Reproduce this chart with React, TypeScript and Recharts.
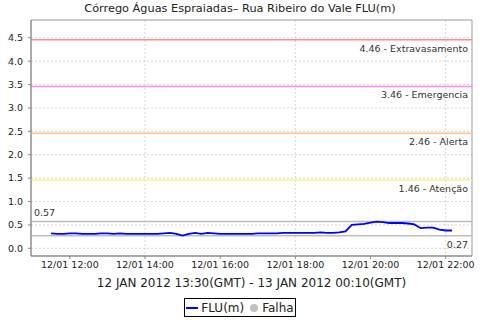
import {
  CartesianGrid,
  Line,
  LineChart,
  ReferenceArea,
  ReferenceLine,
  XAxis,
  YAxis,
} from "recharts";

// 10-minute readings, 12/01 11:30 -> 22:10 (local), minutes since midnight
const startMinute = 690;
const stepMinutes = 10;

const fluValues = [
  0.32, 0.31, 0.31, 0.32, 0.32, 0.31, 0.31, 0.31, 0.32, 0.32,
  0.31, 0.32, 0.31, 0.31, 0.31, 0.31, 0.31, 0.31, 0.32, 0.33,
  0.31, 0.27, 0.31, 0.33, 0.31, 0.33, 0.32, 0.31, 0.31, 0.31,
  0.31, 0.31, 0.31, 0.32, 0.32, 0.32, 0.32, 0.33, 0.33, 0.33,
  0.33, 0.33, 0.33, 0.34, 0.33, 0.33, 0.34, 0.36, 0.5, 0.51,
  0.52, 0.55, 0.57, 0.56, 0.54, 0.54, 0.54, 0.53, 0.51, 0.43,
  0.44, 0.44, 0.4, 0.38, 0.38,
];

const xTicks = [720, 840, 960, 1080, 1200, 1320];
const yTicks = [0, 0.5, 1, 1.5, 2, 2.5, 3, 3.5, 4, 4.5];

const thresholds = [
  { value: 4.46, name: "Extravasamento", color: "#ff8c8c" },
  { value: 3.46, name: "Emergencia", color: "#ff88ff" },
  { value: 2.46, name: "Alerta", color: "#ffc488" },
  { value: 1.46, name: "Atenção", color: "#fff080" },
];

const maxValue = 0.57;
const minValue = 0.27;

const xDomain = [658, 1362];
const yDomain = [-0.165, 4.88];

const font = "'DejaVu Sans', sans-serif";

const chartData = fluValues.map((v, i) => ({
  t: startMinute + i * stepMinutes,
  flu: v,
}));

const pad = (n: number) => String(n).padStart(2, "0");
const formatTime = (m: number) =>
  `12/01 ${pad(Math.floor(m / 60))}:${pad(m % 60)}`;

function RefLabel(props: any) {
  const { viewBox, text, below, left } = props;
  if (!viewBox) return null;
  const { x, y, width } = viewBox;
  return (
    <text
      x={left ? x + 3 : x + width - 4}
      y={below ? y + 8.5 : y - 9}
      textAnchor={left ? "start" : "end"}
      dominantBaseline="central"
      fontSize={9.5}
      fontFamily={font}
      fill="#333"
    >
      {text}
    </text>
  );
}

export default function App() {
  return (
    <div
      style={{
        position: "absolute",
        left: 0,
        top: 0,
        width: 480,
        height: 320,
        background: "#fff",
        fontFamily: font,
      }}
    >
      <div
        style={{
          position: "absolute",
          top: 2,
          left: 0,
          width: 480,
          textAlign: "center",
          fontSize: 11.3,
          color: "#222",
        }}
      >
        Córrego Águas Espraiadas– Rua Ribeiro do Vale FLU(m)
      </div>
      <div style={{ position: "absolute", left: 0, top: 0 }}>
        <LineChart
          width={480}
          height={320}
          data={chartData}
          margin={{ top: 20, right: 8, left: 0, bottom: 33 }}
        >
          <CartesianGrid
            stroke="#d4d4d4"
            strokeDasharray="2 2"
            horizontalValues={yTicks}
            verticalValues={xTicks}
          />
          <XAxis
            type="number"
            dataKey="t"
            domain={xDomain}
            ticks={xTicks}
            tickFormatter={formatTime}
            allowDataOverflow
            height={31}
            stroke="#888"
            tickSize={3}
            tickMargin={2}
            tick={{ fontSize: 9.5, fill: "#222", fontFamily: font }}
            label={{
              value: "12 JAN 2012 13:30(GMT) - 13 JAN 2012 00:10(GMT)",
              position: "insideBottom",
              offset: 0,
              fontSize: 12,
              fill: "#222",
              fontFamily: font,
            }}
          />
          <YAxis
            type="number"
            domain={yDomain}
            ticks={yTicks}
            allowDataOverflow
            width={31}
            stroke="#888"
            tickSize={3}
            tickMargin={5}
            tickFormatter={(v: number) => v.toFixed(1)}
            tick={{ fontSize: 9.5, fill: "#222", fontFamily: font }}
          />
          <ReferenceArea
            x1={xDomain[0]}
            x2={xDomain[1]}
            y1={yDomain[0]}
            y2={yDomain[1]}
            fill="none"
            stroke="#999"
            ifOverflow="visible"
          />
          {thresholds.map((th) => (
            <ReferenceLine
              key={th.name}
              y={th.value}
              stroke={th.color}
              strokeWidth={1.5}
              label={<RefLabel text={`${th.value} - ${th.name}`} below />}
            />
          ))}
          <ReferenceLine
            y={maxValue}
            stroke="#bdbdbd"
            strokeWidth={1.5}
            label={<RefLabel text={`${maxValue}`} left />}
          />
          <ReferenceLine
            y={minValue}
            stroke="#bdbdbd"
            strokeWidth={1.5}
            label={<RefLabel text={`${minValue}`} below />}
          />
          <Line
            type="linear"
            dataKey="flu"
            stroke="#0000ff"
            strokeWidth={1.8}
            dot={false}
            isAnimationActive={false}
          />
        </LineChart>
      </div>
      <div
        style={{
          position: "absolute",
          left: 184,
          top: 298,
          width: 112,
          height: 19,
          border: "1px solid #000",
          display: "flex",
          alignItems: "center",
          justifyContent: "center",
          fontSize: 12,
          color: "#222",
          boxSizing: "border-box",
        }}
      >
        <span
          style={{
            display: "inline-block",
            width: 12,
            height: 2,
            background: "#0000ff",
            marginRight: 3,
          }}
        />
        <span>FLU(m)</span>
        <span
          style={{
            display: "inline-block",
            width: 8,
            height: 8,
            borderRadius: 4,
            background: "#c0c0c0",
            margin: "0 4px 0 6px",
          }}
        />
        <span>Falha</span>
      </div>
    </div>
  );
}
